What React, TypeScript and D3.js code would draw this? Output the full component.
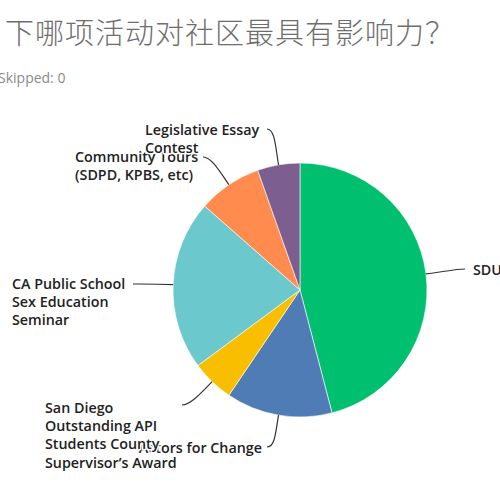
import React from "react";
import * as d3 from "d3";

const categories = [
  "SDUSD Board Meeting",
  "Actors for Change",
  "San Diego Outstanding API Students County Supervisor’s Award",
  "CA Public School Sex Education Seminar",
  "Community Tours (SDPD, KPBS, etc)",
  "Legislative Essay Contest",
];
const labelLines = [
  ["SDUSD Board Meeting"],
  ["Actors for Change"],
  ["San Diego", "Outstanding API", "Students County", "Supervisor’s Award"],
  ["CA Public School", "Sex Education", "Seminar"],
  ["Community Tours", "(SDPD, KPBS, etc)"],
  ["Legislative Essay", "Contest"],
];
const counts = [17, 5, 2, 8, 3, 2];
const colors = ["#00BF6F", "#507CB6", "#F9BE00", "#6BC8CD", "#FF8B4F", "#7D5E90"];

const title = "下哪项活动对社区最具有影响力？";
const skipped = "Skipped: 0";

// layout: leader end point, text anchor, text x, first baseline
const layout = [
  { end: [465, 269], anchor: "start", tx: 473, ty: 275 },
  { end: [267, 447], anchor: "end", tx: 262, ty: 453 },
  { end: [182, 405], anchor: "start", tx: 45, ty: 413 },
  { end: [133, 284], anchor: "start", tx: 12, ty: 289 },
  { end: [203, 157], anchor: "start", tx: 75, ty: 162 },
  { end: [267, 129], anchor: "start", tx: 145, ty: 135 },
];

const W = 500, H = 500;
const cx = 300, cy = 290, R = 127;

export default function App() {
  const pie = d3.pie<number>().sort(null).value((d) => d)(counts);
  const arc = d3.arc<d3.PieArcDatum<number>>().innerRadius(0).outerRadius(R);

  return (
    <svg width={W} height={H} style={{ position: "absolute", left: 0, top: 0, background: "#fff" }}>
      <text x={5} y={44} fontFamily="'Noto Sans CJK SC'" fontWeight={300} fontSize={29} fill="#6e6e6e" letterSpacing={1}>
        {title}
      </text>
      <text x={-2} y={83} fontFamily="'Open Sans'" fontSize={14} fill="#8a8a8a">
        {skipped}
      </text>
      <g transform={`translate(${cx},${cy})`}>
        {pie.map((p, i) => (
          <path key={i} d={arc(p) || ""} fill={colors[i]} stroke="#fff" strokeWidth={0.6} />
        ))}
      </g>
      {pie.map((p, i) => {
        const a = (p.startAngle + p.endAngle) / 2;
        const dx = Math.sin(a), dy = -Math.cos(a);
        const x0 = cx + R * dx, y0 = cy + R * dy;
        const [ex, ey] = layout[i].end;
        const x1 = x0 + dx * 18, y1 = y0 + dy * 18;
        const x2 = ex + (x0 < ex ? -8 : 8), y2 = ey;
        const path = d3.path();
        path.moveTo(x0, y0);
        path.bezierCurveTo(x1, y1, x2, y2, ex, ey);
        return <path key={"l" + i} d={path.toString()} fill="none" stroke="#333" strokeWidth={1.2} />;
      })}
      {pie.map((p, i) => (
        <text
          key={"t" + i}
          x={layout[i].tx}
          y={layout[i].ty}
          textAnchor={layout[i].anchor as any}
          fontFamily="'Open Sans'"
          fontWeight={600}
          fontSize={14.3}
          fill="#222"
          stroke="#fff"
          strokeWidth={3}
          paintOrder="stroke"
          strokeLinejoin="round"
        >
          {labelLines[i].map((l, j) => (
            <tspan key={j} x={layout[i].tx} dy={j === 0 ? 0 : 18.2}>
              {l}
            </tspan>
          ))}
        </text>
      ))}
    </svg>
  );
}
